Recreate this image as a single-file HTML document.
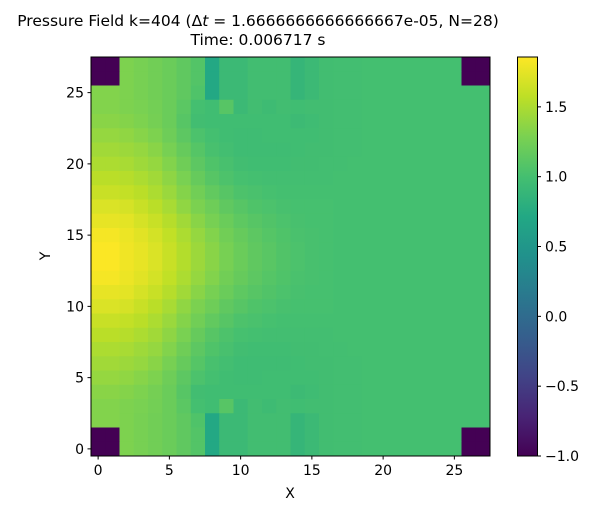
<!DOCTYPE html>
<html><head><meta charset="utf-8"><style>
body{margin:0;background:#fff;width:594px;height:513px;overflow:hidden}
svg text{font-family:"DejaVu Sans","Liberation Sans",sans-serif;fill:#000}
</style></head><body>
<svg id="chart" width="594" height="513" xmlns="http://www.w3.org/2000/svg">
<defs><linearGradient id="vir" x1="0" y1="1" x2="0" y2="0">
<stop offset="0" stop-color="#440154"/><stop offset="0.1" stop-color="#482475"/><stop offset="0.2" stop-color="#414487"/><stop offset="0.3" stop-color="#355f8d"/><stop offset="0.4" stop-color="#2a788e"/><stop offset="0.5" stop-color="#21918c"/><stop offset="0.6" stop-color="#22a884"/><stop offset="0.7" stop-color="#44bf70"/><stop offset="0.8" stop-color="#7ad151"/><stop offset="0.9" stop-color="#bddf26"/><stop offset="1" stop-color="#fde725"/></linearGradient></defs>
<text x="258" y="26" font-size="15.5" text-anchor="middle">Pressure Field k=404 (Δ<tspan font-style="italic">t</tspan> = 1.6666666666666667e-05, N=28)</text>
<text x="258" y="45" font-size="15.5" text-anchor="middle">Time: 0.006717 s</text>
<g id="cells"></g>
<rect x="91" y="57" width="399" height="399" fill="none" stroke="#000" stroke-width="1"/>
<g id="axes"></g>
<text x="290" y="498" font-size="14" text-anchor="middle">X</text>
<text x="50" y="256" font-size="14" text-anchor="middle" transform="rotate(-90 50 256)">Y</text>
<rect x="517.5" y="57" width="20" height="399" fill="url(#vir)" stroke="#000" stroke-width="1"/>
<g id="cbar"></g>
</svg>
<script>
const rowsTopHalf=[
[-1,-1,1.3,1.27,1.24,1.2,1.15,1.08,0.72,0.93,0.93,0.98,0.98,0.98,0.88,0.93,0.98,0.99,0.99,1.0,1.0,1.0,1.0,1.0,1.0,1.0,-1,-1],
[-1,-1,1.3,1.27,1.24,1.2,1.15,1.08,0.72,0.93,0.93,0.98,0.98,0.98,0.88,0.93,0.98,0.99,0.99,1.0,1.0,1.0,1.0,1.0,1.0,1.0,-1,-1],
[1.32,1.32,1.3,1.27,1.24,1.2,1.15,1.06,0.72,0.93,0.93,0.98,0.98,0.98,0.88,0.93,0.98,0.99,0.99,1.0,1.0,1.0,1.0,1.0,1.0,1.0,1.0,1.0],
[1.32,1.32,1.3,1.28,1.25,1.2,1.12,1.0,0.97,1.1,0.93,0.98,0.95,0.98,0.97,0.98,0.98,0.99,0.99,1.0,1.0,1.0,1.0,1.0,1.0,1.0,1.0,1.0],
[1.35,1.35,1.33,1.3,1.26,1.2,1.1,0.98,0.97,0.97,0.97,0.97,0.97,0.97,0.94,0.96,0.98,0.99,0.99,1.0,1.0,1.0,1.0,1.0,1.0,1.0,1.0,1.0],
[1.4,1.4,1.38,1.34,1.3,1.22,1.13,1.04,1.0,0.97,0.96,0.96,0.97,0.97,0.97,0.97,0.98,0.99,0.99,1.0,1.0,1.0,1.0,1.0,1.0,1.0,1.0,1.0],
[1.45,1.45,1.43,1.4,1.35,1.27,1.18,1.09,1.02,0.99,0.96,0.96,0.96,0.96,0.97,0.98,0.98,0.99,0.99,1.0,1.0,1.0,1.0,1.0,1.0,1.0,1.0,1.0],
[1.5,1.5,1.48,1.44,1.4,1.32,1.23,1.13,1.06,1.02,0.98,0.97,0.97,0.97,0.98,0.98,0.99,0.99,1.0,1.0,1.0,1.0,1.0,1.0,1.0,1.0,1.0,1.0],
[1.56,1.56,1.54,1.5,1.45,1.37,1.28,1.18,1.1,1.05,1.01,1.0,0.99,0.99,0.99,0.99,0.99,1.0,1.0,1.0,1.0,1.0,1.0,1.0,1.0,1.0,1.0,1.0],
[1.62,1.62,1.6,1.56,1.5,1.42,1.33,1.24,1.16,1.1,1.05,1.03,1.01,1.0,1.0,1.0,1.0,1.0,1.0,1.0,1.0,1.0,1.0,1.0,1.0,1.0,1.0,1.0],
[1.7,1.7,1.68,1.62,1.56,1.48,1.38,1.29,1.22,1.15,1.1,1.06,1.04,1.02,1.01,1.01,1.01,1.0,1.0,1.0,1.0,1.0,1.0,1.0,1.0,1.0,1.0,1.0],
[1.76,1.76,1.74,1.68,1.62,1.54,1.45,1.35,1.27,1.2,1.14,1.1,1.07,1.04,1.02,1.01,1.01,1.0,1.0,1.0,1.0,1.0,1.0,1.0,1.0,1.0,1.0,1.0],
[1.82,1.82,1.78,1.73,1.67,1.59,1.5,1.4,1.32,1.24,1.18,1.13,1.09,1.06,1.03,1.02,1.01,1.0,1.0,1.0,1.0,1.0,1.0,1.0,1.0,1.0,1.0,1.0],
[1.85,1.85,1.8,1.76,1.7,1.62,1.53,1.43,1.35,1.27,1.2,1.15,1.11,1.07,1.04,1.02,1.01,1.0,1.0,1.0,1.0,1.0,1.0,1.0,1.0,1.0,1.0,1.0]
];
// grid rows listed from y=27 (top) down to y=0 (bottom)
const gridRows=rowsTopHalf.concat(rowsTopHalf.slice().reverse());
const xTicks=[0,5,10,15,20,25];
const yTicks=[0,5,10,15,20,25];
const cbarTicks=[-1.0,-0.5,0.0,0.5,1.0,1.5];
const cbarLabels=["\u22121.0","\u22120.5","0.0","0.5","1.0","1.5"];
const vmin=-1, vmax=1.857, N=28;
const PX0=91,PY1=456,CS=399/N;
const xs=v=>PX0+(v+0.5)*CS;
const ys=v=>PY1-(v+0.5)*CS;
const cy=v=>456-(v-vmin)/(vmax-vmin)*399;
const stops=[[68,1,84],[72,36,117],[65,68,135],[53,95,141],[42,120,142],[33,145,140],[34,168,132],[68,191,112],[122,209,81],[189,223,38],[253,231,37]];
function vir(v){let t=Math.max(0,Math.min(1,(v-vmin)/(vmax-vmin)))*10;let i=Math.min(9,Math.floor(t)),f=t-i;
const a=stops[i],b=stops[i+1];return `rgb(${a.map((c,k)=>Math.round(c+(b[k]-c)*f)).join(',')})`;}
const NS="http://www.w3.org/2000/svg";
const mk=(t,a,p)=>{const e=document.createElementNS(NS,t);for(const k in a)e.setAttribute(k,a[k]);p.appendChild(e);return e;};
const cells=document.getElementById('cells');
gridRows.forEach((row,ri)=>{const yv=N-1-ri;row.forEach((v,xv)=>{
const r=mk('rect',{x:xs(xv)-CS/2,y:ys(yv)-CS/2,width:CS+0.3,height:CS+0.3,fill:vir(v)},cells);

});});
const ax=document.getElementById('axes');
xTicks.forEach(v=>{const g=mk('g',{},ax);


mk('line',{x1:xs(v),x2:xs(v),y1:456,y2:459.5,stroke:'#000'},g);
const t=mk('text',{x:xs(v),y:475,'font-size':14,'text-anchor':'middle'},g);t.textContent=v;});
yTicks.forEach(v=>{const g=mk('g',{},ax);


mk('line',{x1:87.5,x2:91,y1:ys(v),y2:ys(v),stroke:'#000'},g);
const t=mk('text',{x:84,y:ys(v)+5,'font-size':14,'text-anchor':'end'},g);t.textContent=v;});
const cb=document.getElementById('cbar');
cbarTicks.forEach((v,i)=>{const g=mk('g',{},cb);


mk('line',{x1:537.5,x2:541,y1:cy(v),y2:cy(v),stroke:'#000'},g);
const t=mk('text',{x:545,y:cy(v)+5,'font-size':14},g);t.textContent=cbarLabels[i];});
</script>
</body></html>
